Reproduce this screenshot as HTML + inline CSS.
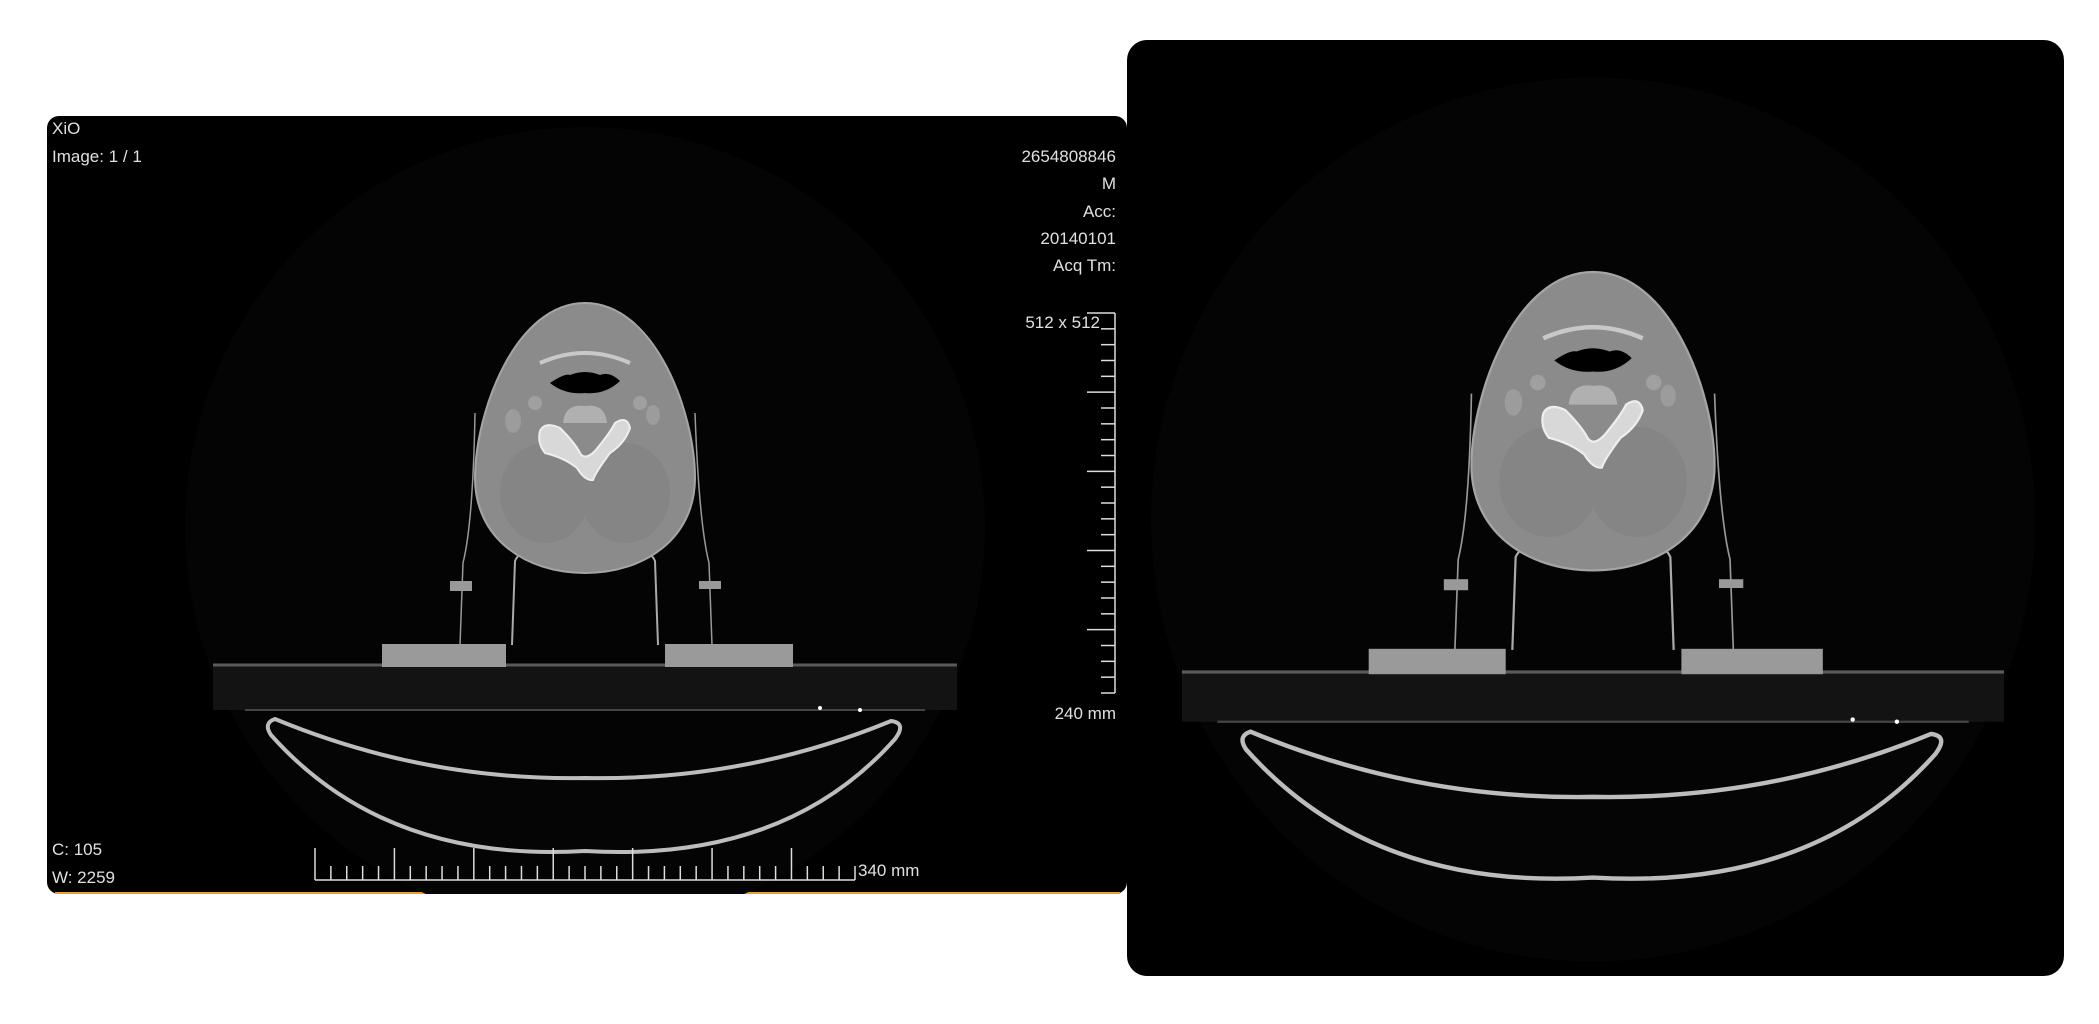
<!DOCTYPE html>
<html><head><meta charset="utf-8"><style>
html,body{margin:0;padding:0;background:#fff;width:2099px;height:1024px;overflow:hidden}
svg{position:absolute;left:0;top:0}
text{font-family:"Liberation Sans",sans-serif;fill:#e0e0e0;font-size:17px}
</style></head><body>
<svg width="2099" height="1024" viewBox="0 0 2099 1024">
<defs>
<clipPath id="clipL"><rect x="47" y="116" width="1080" height="778" rx="12"/></clipPath>
<clipPath id="clipR"><rect x="1127" y="40" width="937" height="936" rx="20"/></clipPath>
<g id="scene">
  <circle cx="0" cy="224" r="400" fill="#040404"/>
  <path d="M-372,362 L372,362 L372,407 L-372,407 Z" fill="#131313"/>
  <line x1="-372" y1="362" x2="372" y2="362" stroke="#5a5a5a" stroke-width="3"/>
  <line x1="-340" y1="407" x2="340" y2="407" stroke="#444" stroke-width="2"/>
  <rect x="-203" y="341" width="124" height="23" fill="#9a9a9a"/>
  <rect x="80" y="341" width="128" height="23" fill="#9a9a9a"/>
  <path d="M-73,342 L-70,258 Q-66,248 -50,246" stroke="#aaa" stroke-width="2" fill="none"/>
  <path d="M73,342 L70,258 Q66,248 50,246" stroke="#aaa" stroke-width="2" fill="none"/>
  <path d="M-110,110 Q-112,220 -122,260 L-125,342" stroke="#999" stroke-width="1.5" fill="none"/>
  <path d="M110,110 Q114,220 124,260 L127,342" stroke="#999" stroke-width="1.5" fill="none"/>
  <rect x="-135" y="278" width="22" height="10" fill="#999"/>
  <rect x="114" y="278" width="22" height="8" fill="#999"/>
  <path d="M-310,416 Q-322,420 -314,432 Q-200,560 0,548 Q200,560 310,436 Q322,420 306,418 Q160,478 0,475 Q-160,478 -310,416 Z" fill="#050505" stroke="#bdbdbd" stroke-width="4"/>
  <circle cx="235" cy="405" r="2" fill="#fff"/><circle cx="275" cy="407" r="2" fill="#fff"/>
  <path d="M0,0 C70,0 110,110 110,175 C110,235 60,270 0,270 C-60,270 -110,235 -110,175 C-110,110 -70,0 0,0 Z" fill="#8b8b8b" stroke="#a5a5a5" stroke-width="2"/>
  <ellipse cx="-40" cy="190" rx="45" ry="50" fill="#858585"/>
  <ellipse cx="40" cy="190" rx="45" ry="50" fill="#858585"/>
  <path d="M-35,80 Q-20,70 -15,72 Q0,66 15,72 Q25,68 35,78 Q20,92 0,90 Q-20,92 -35,80 Z" fill="#000"/>
  <path d="M-45,60 Q0,40 45,60" stroke="#c8c8c8" stroke-width="4" fill="none"/>
  <path d="M-22,120 Q-20,100 0,103 Q20,100 22,120 Z" fill="#b0b0b0"/>
  <path d="M-45,128 Q-40,118 -25,125 Q-10,140 -5,150 Q0,158 10,148 Q25,130 30,120 Q42,112 45,125 Q40,140 25,150 Q10,170 8,177 Q0,178 -8,165 Q-20,155 -40,150 Q-48,140 -45,128 Z" fill="#d8d8d8" stroke="#eee" stroke-width="2"/>
  <circle cx="-50" cy="100" r="7" fill="#a0a0a0"/><circle cx="55" cy="100" r="7" fill="#a0a0a0"/>
  <ellipse cx="-72" cy="118" rx="8" ry="12" fill="#9c9c9c"/><ellipse cx="68" cy="112" rx="7" ry="10" fill="#9c9c9c"/>
</g>
</defs>

<g>
  <rect x="47" y="116" width="1080" height="778" rx="12" fill="#000"/>
  <line x1="55" y1="893" x2="1120" y2="893" stroke="#e8a030" stroke-width="2"/>
  <g clip-path="url(#clipL)"><use href="#scene" transform="translate(585,303)"/></g>
  <text x="52" y="134">XiO</text>
  <text x="52" y="162">Image: 1 / 1</text>
  <g text-anchor="end">
    <text x="1116" y="162">2654808846</text>
    <text x="1116" y="189">M</text>
    <text x="1116" y="217">Acc:</text>
    <text x="1116" y="244">20140101</text>
    <text x="1116" y="271">Acq Tm:</text>
    <text x="1100" y="328">512 x 512</text>
    <text x="1116" y="719">240 mm</text>
  </g>
  <text x="52" y="855">C: 105</text>
  <text x="52" y="883">W: 2259</text>
  <g id="vruler" stroke="#ddd" stroke-width="1.5"></g>
  <g id="hruler" stroke="#ddd" stroke-width="1.5"></g>
  <text x="858" y="876">340 mm</text>
</g>

<g>
  <rect x="1127" y="40" width="937" height="936" rx="20" fill="#000"/>
  <g clip-path="url(#clipR)"><use href="#scene" transform="translate(1593,272) scale(1.105)"/></g>
</g>
</svg>
<script>
const vTicks = 24, hTicks = 34;
const NS = "http://www.w3.org/2000/svg";
const vr = document.getElementById('vruler');
const vTop = 313, vBot = 693, vx = 1115;
let l = document.createElementNS(NS,'line');
l.setAttribute('x1',vx);l.setAttribute('x2',vx);l.setAttribute('y1',vTop);l.setAttribute('y2',vBot);
vr.appendChild(l);
for(let i=0;i<=vTicks;i++){
  const y = vTop + (vBot-vTop)*i/vTicks;
  const t = document.createElementNS(NS,'line');
  
  
  const len = (i%5===0)?28:14;
  t.setAttribute('x1',vx-len);t.setAttribute('x2',vx);t.setAttribute('y1',y);t.setAttribute('y2',y);
  vr.appendChild(t);
}
const hr = document.getElementById('hruler');
const hL = 315, hR = 855, hy = 880;
l = document.createElementNS(NS,'line');
l.setAttribute('x1',hL);l.setAttribute('x2',hR);l.setAttribute('y1',hy);l.setAttribute('y2',hy);
hr.appendChild(l);
for(let i=0;i<=hTicks;i++){
  const x = hL + (hR-hL)*i/hTicks;
  const t = document.createElementNS(NS,'line');
  
  
  const len = (i%5===0)?32:14;
  t.setAttribute('x1',x);t.setAttribute('x2',x);t.setAttribute('y1',hy-len);t.setAttribute('y2',hy);
  hr.appendChild(t);
}
</script>
</body></html>
